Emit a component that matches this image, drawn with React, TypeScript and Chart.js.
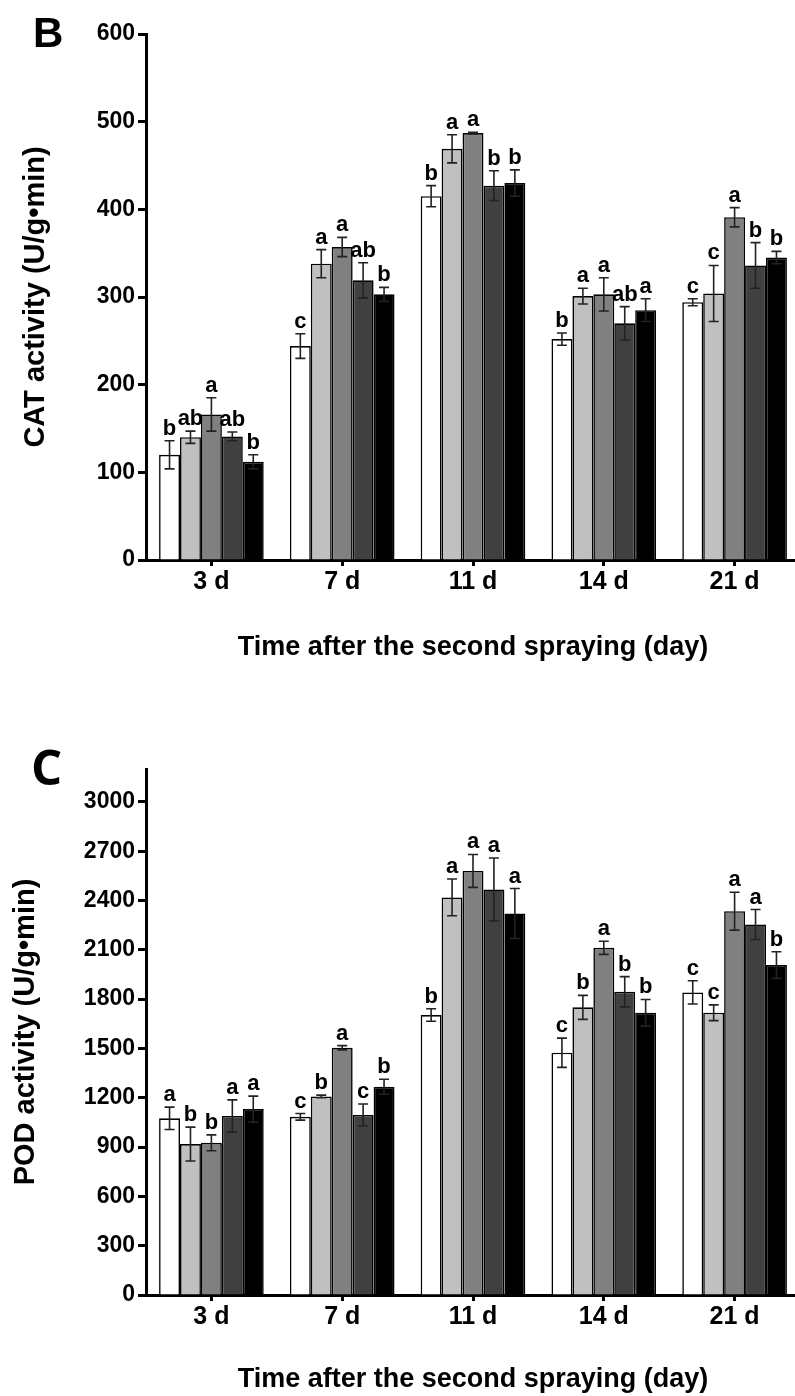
import React, { useEffect, useRef } from 'react';
import { Chart, registerables } from 'chart.js';

Chart.register(...registerables);

const FONT = '"Liberation Sans", Arial, sans-serif';

const categories = ['3 d', '7 d', '11 d', '14 d', '21 d'];
const seriesColors = ['#ffffff', '#c0c0c0', '#808080', '#404040', '#000000'];

// Panel B: CAT activity
const catS1 = [120, 244, 415, 252, 294];
const catS2 = [140, 338, 469, 301, 304];
const catS3 = [166, 357, 487, 303, 391];
const catS4 = [141, 319, 427, 270, 336];
const catS5 = [112, 303, 430, 285, 345];
const catE1 = [16, 14, 12, 7, 4];
const catE2 = [7, 16, 16, 9, 32];
const catE3 = [19, 11, 1, 19, 11];
const catE4 = [5, 20, 17, 19, 26];
const catE5 = [8, 8, 15, 13, 7];
const catL1 = ['b', 'c', 'b', 'b', 'c'];
const catL2 = ['ab', 'a', 'a', 'a', 'c'];
const catL3 = ['a', 'a', 'a', 'a', 'a'];
const catL4 = ['ab', 'ab', 'b', 'ab', 'b'];
const catL5 = ['b', 'b', 'b', 'a', 'b'];

// Panel C: POD activity
const podS1 = [1075, 1084, 1703, 1474, 1841];
const podS2 = [918, 1208, 2419, 1750, 1717];
const podS3 = [926, 1504, 2580, 2112, 2335];
const podS4 = [1089, 1095, 2467, 1845, 2254];
const podS5 = [1131, 1267, 2321, 1717, 2007];
const podE1 = [68, 20, 38, 89, 71];
const podE2 = [103, 8, 112, 73, 48];
const podE3 = [48, 13, 100, 40, 115];
const podE4 = [98, 67, 192, 92, 91];
const podE5 = [79, 46, 152, 81, 81];
const podL1 = ['a', 'c', 'b', 'c', 'c'];
const podL2 = ['b', 'b', 'a', 'b', 'c'];
const podL3 = ['b', 'a', 'a', 'a', 'a'];
const podL4 = ['a', 'c', 'a', 'b', 'a'];
const podL5 = ['a', 'b', 'a', 'b', 'b'];

const xTitle = 'Time after the second spraying (day)';

function makeOverlay(errors: number[][], letters: string[][], panel: string, panelFont: string, panelX: number, panelY: number) {
  return {
    id: 'overlay' + panel,
    afterDatasetsDraw(chart: any) {
      const ctx = chart.ctx;
      const y = chart.scales.y;
      ctx.save();
      chart.data.datasets.forEach((ds: any, i: number) => {
        const meta = chart.getDatasetMeta(i);
        meta.data.forEach((bar: any, j: number) => {
          const v = ds.data[j];
          const e = errors[i][j];
          const top = y.getPixelForValue(v + e);
          const bot = y.getPixelForValue(v - e);
          const x = bar.x;
          ctx.strokeStyle = '#222';
          ctx.lineWidth = 1.6;
          ctx.beginPath();
          ctx.moveTo(x, top);
          ctx.lineTo(x, bot);
          ctx.moveTo(x - 5, top);
          ctx.lineTo(x + 5, top);
          ctx.moveTo(x - 5, bot);
          ctx.lineTo(x + 5, bot);
          ctx.stroke();
          ctx.fillStyle = '#000';
          ctx.font = 'bold 22px ' + FONT;
          ctx.textAlign = 'center';
          ctx.textBaseline = 'alphabetic';
          ctx.fillText(letters[i][j], x, top - 6);
        });
      });
      ctx.restore();
    },
    afterDraw(chart: any) {
      const ctx = chart.ctx;
      ctx.save();
      ctx.fillStyle = '#000';
      ctx.font = panelFont;
      ctx.textAlign = 'left';
      ctx.textBaseline = 'alphabetic';
      ctx.fillText(panel, panelX, panelY);
      ctx.restore();
    },
  };
}

function buildConfig(opts: any) {
  const series = opts.series;
  return {
    type: 'bar',
    data: {
      labels: categories,
      datasets: series.map((d: number[], i: number) => ({
        data: d,
        backgroundColor: seriesColors[i],
        borderColor: '#000',
        borderWidth: 1.6,
        categoryPercentage: 0.8,
        barPercentage: 1.0,
      })),
    },
    options: {
      responsive: false,
      animation: false,
      devicePixelRatio: 1,
      layout: { padding: { top: opts.padTop, left: 0, right: 10, bottom: 0 } },
      plugins: { legend: { display: false }, tooltip: { enabled: false } },
      scales: {
        x: {
          type: 'category',
          offset: true,
          z: 1,
          grid: {
            display: true,
            drawOnChartArea: false,
            drawTicks: true,
            tickLength: 6,
            tickWidth: 3,
            tickColor: '#000',
            offset: false,
          },
          border: { display: true, color: '#000', width: 3 },
          ticks: { color: '#000', font: { family: FONT, size: 25, weight: 'bold' }, padding: 1 },
          title: {
            display: true,
            text: xTitle,
            color: '#000',
            font: { family: FONT, size: 27, weight: 'bold' },
            padding: { top: 0, bottom: opts.xTitlePad },
          },
          afterFit: (s: any) => {
            s.height = opts.xHeight;
          },
        },
        y: {
          min: 0,
          max: opts.yMax,
          z: 1,
          ticks: {
            stepSize: opts.yStep,
            includeBounds: false,
            color: '#000',
            font: { family: FONT, size: 23, weight: 'bold' },
            padding: 3,
            callback: (v: any) => String(v),
          },
          grid: {
            display: true,
            drawOnChartArea: false,
            drawTicks: true,
            tickLength: 8,
            tickWidth: 3,
            tickColor: '#000',
          },
          border: { display: true, color: '#000', width: 3 },
          title: {
            display: true,
            text: opts.yTitle,
            color: '#000',
            font: { family: FONT, size: 29, weight: 'bold' },
            padding: { top: opts.yTitlePad, bottom: 0 },
          },
          afterFit: (s: any) => {
            s.width = 146;
          },
        },
      },
    },
    plugins: [makeOverlay(opts.errors, opts.letters, opts.panel, opts.panelFont, opts.panelX, opts.panelY)],
  };
}

function Panel({ top, height, opts }: { top: number; height: number; opts: any }) {
  const ref = useRef<HTMLCanvasElement | null>(null);
  useEffect(() => {
    if (!ref.current) return;
    const chart = new Chart(ref.current, buildConfig(opts) as any);
    return () => chart.destroy();
  }, []);
  return (
    <canvas
      ref={ref}
      width={810}
      height={height}
      style={{ position: 'absolute', left: 0, top, width: '810px', height: height + 'px' }}
    />
  );
}

export default function App() {
  const optsB = {
    series: [catS1, catS2, catS3, catS4, catS5],
    errors: [catE1, catE2, catE3, catE4, catE5],
    letters: [catL1, catL2, catL3, catL4, catL5],
    yMax: 600,
    yStep: 100,
    yTitle: 'CAT activity (U/g•min)',
    yTitlePad: 19,
    padTop: 34,
    xHeight: 120,
    xTitlePad: 16,
    panel: 'B',
    panelFont: 'bold 42px ' + FONT,
    panelX: 33,
    panelY: 47,
  };
  const optsC = {
    series: [podS1, podS2, podS3, podS4, podS5],
    errors: [podE1, podE2, podE3, podE4, podE5],
    letters: [podL1, podL2, podL3, podL4, podL5],
    yMax: 3200,
    yStep: 300,
    yTitle: 'POD activity (U/g•min)',
    yTitlePad: 9,
    padTop: 69,
    xHeight: 101,
    xTitlePad: 0,
    panel: 'C',
    panelFont: 'bold 49px "Open Sans", sans-serif',
    panelX: 31,
    panelY: 85,
  };
  return (
    <div
      style={{
        position: 'fixed',
        left: 0,
        top: 0,
        width: '795px',
        height: '1396px',
        overflow: 'hidden',
        background: '#fff',
      }}
    >
      <Panel top={0} height={680} opts={optsB} />
      <Panel top={700} height={696} opts={optsC} />
    </div>
  );
}
